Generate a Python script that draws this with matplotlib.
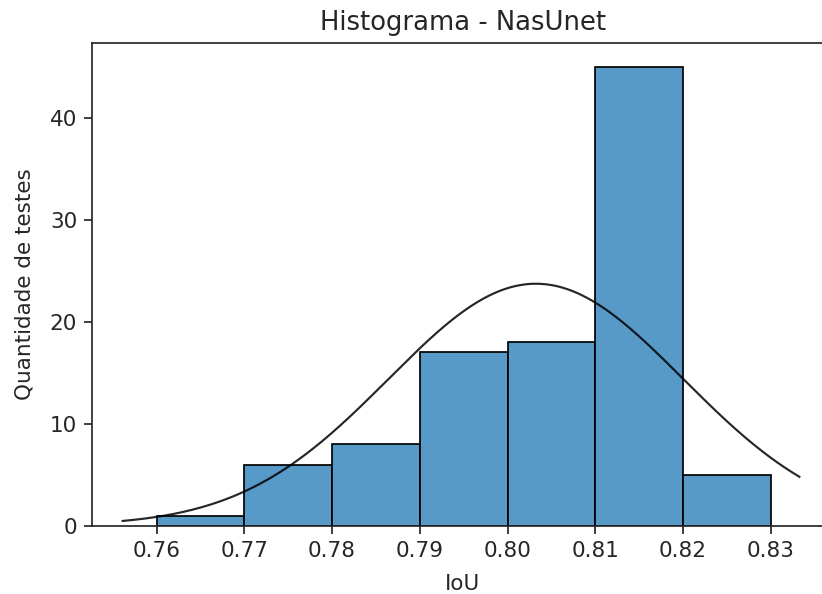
import numpy as np
import matplotlib
matplotlib.use("Agg")
import matplotlib.pyplot as plt

# Histogram data (IoU bins and counts)
bin_edges = [0.76, 0.77, 0.78, 0.79, 0.80, 0.81, 0.82, 0.83]
counts = [1, 6, 8, 17, 18, 45, 5]
xtick_vals = [0.76, 0.77, 0.78, 0.79, 0.80, 0.81, 0.82, 0.83]
xtick_labels = ["0.76", "0.77", "0.78", "0.79", "0.80", "0.81", "0.82", "0.83"]
ytick_vals = [0, 10, 20, 30, 40]

# Fitted normal curve parameters
fit_mu = 0.80323
fit_sigma = 0.0168
curve_x_start = 0.75612
curve_x_end = 0.83327

title = "Histograma - NasUnet"
xlabel = "IoU"
ylabel = "Quantidade de testes"

dpi = 155
fig = plt.figure(figsize=(822 / dpi, 594 / dpi), dpi=dpi)
ax = fig.add_axes([92.3 / 822, 68.3 / 594, (833.0 - 92.3) / 822, 483.0 / 594])

edges = np.array(bin_edges)
widths = np.diff(edges)
bar_color = (87 / 255, 153 / 255, 199 / 255)
ax.bar(edges[:-1], counts, width=widths, align="edge", color=bar_color,
       edgecolor="black", linewidth=0.8, zorder=2)

n_total = sum(counts)
bw = widths[0]
xs = np.linspace(curve_x_start, curve_x_end, 300)
pdf = np.exp(-0.5 * ((xs - fit_mu) / fit_sigma) ** 2) / (fit_sigma * np.sqrt(2 * np.pi))
ax.plot(xs, pdf * n_total * bw, color="black", linewidth=1.0, zorder=3, alpha=0.85)

ax.set_xlim(0.75266, 0.8371)
ax.set_ylim(0, 47.4)
ax.set_xticks(xtick_vals)
ax.set_xticklabels(xtick_labels)
ax.set_yticks(ytick_vals)
ax.tick_params(labelsize=10, colors="#262626")
for s in ax.spines.values():
    s.set_color("#262626")

ax.set_title(title, fontsize=12, color="#262626")
ax.set_xlabel(xlabel, fontsize=10, color="#262626", labelpad=6)
ax.set_ylabel(ylabel, fontsize=10, color="#262626", labelpad=7)

fig.savefig("out.png", dpi=dpi)
